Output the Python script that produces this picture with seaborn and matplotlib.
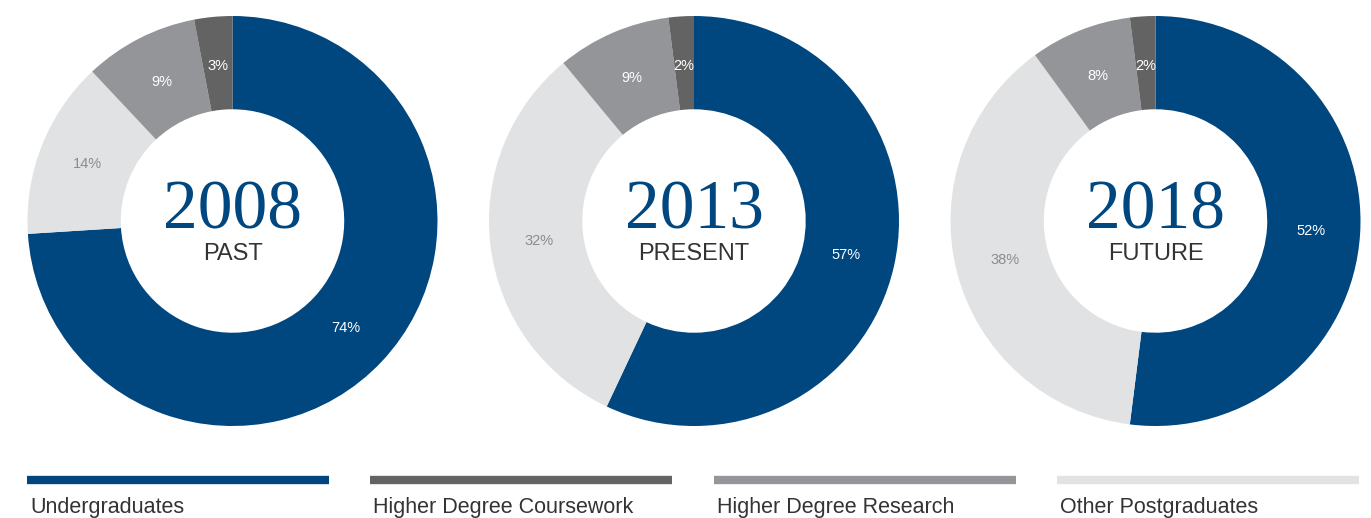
import numpy as np
import matplotlib
matplotlib.use("Agg")
import matplotlib.pyplot as plt
import seaborn as sns

# ── data ──────────────────────────────────────
years = ["2008", "2013", "2018"]
periods = ["PAST", "PRESENT", "FUTURE"]
# clockwise order from 12 o'clock
wedge_cats = ["Undergraduates", "Other Postgraduates",
              "Higher Degree Research", "Higher Degree Coursework"]
shares = {
    "2008": [74, 14, 9, 3],
    "2013": [57, 32, 9, 2],
    "2018": [52, 38, 8, 2],
}
legend_cats = ["Undergraduates", "Higher Degree Coursework",
               "Higher Degree Research", "Other Postgraduates"]

colors = {
    "Undergraduates": "#00467f",
    "Higher Degree Coursework": "#636363",
    "Higher Degree Research": "#939598",
    "Other Postgraduates": "#e1e2e3",
}
label_colors = {
    "Undergraduates": "white",
    "Higher Degree Coursework": "white",
    "Higher Degree Research": "white",
    "Other Postgraduates": "#8c8c8c",
}

sns.set_theme(style="white")
plt.rcParams['font.family'] = ['Liberation Sans', 'DejaVu Sans']

W, H = 1371, 518
fig = plt.figure(figsize=(W / 100, H / 100), dpi=100)
fig.patch.set_facecolor("white")

centers_x = [232.5, 694, 1155.5]
cy, r = 221, 205

for yr, per, cx in zip(years, periods, centers_x):
    ax = fig.add_axes([(cx - r) / W, (H - cy - r) / H, 2 * r / W, 2 * r / H])
    vals = shares[yr]
    wedges, texts = ax.pie(
        vals, colors=[colors[c] for c in wedge_cats],
        startangle=90, counterclock=False, radius=1.0,
        wedgeprops=dict(width=0.455, edgecolor="none"),
        labels=[f"{v}%" for v in vals], labeldistance=0.76,
        textprops=dict(fontsize=10.5),
    )
    for t, c in zip(texts, wedge_cats):
        t.set_color(label_colors[c])
        t.set_ha("center")
        t.set_va("center")
    ax.text(0, 0.045, yr, ha="center", va="center", fontsize=50,
            family=["Liberation Serif", "DejaVu Serif"], color="#00467f")
    ax.text(0, -0.16, per, ha="center", va="center", fontsize=17,
            color="#333333")
    ax.set_xlim(-1, 1)
    ax.set_ylim(-1, 1)
    ax.set_aspect("equal")
    ax.axis("off")

# ── legend strip ─────────────────────────────
lax = fig.add_axes([0, 0, 1, 1], facecolor="none")
lax.set_xlim(0, W)
lax.set_ylim(H, 0)
lax.axis("off")
starts = [27, 370, 714, 1057]
for cat, x0 in zip(legend_cats, starts):
    lax.hlines(480, x0, x0 + 302, color=colors[cat], linewidth=6)
    lax.text(x0 + 3, 507, cat, ha="left", va="center", fontsize=15.5,
             color="#333333")

fig.savefig("out.png", dpi=100, facecolor="white")
